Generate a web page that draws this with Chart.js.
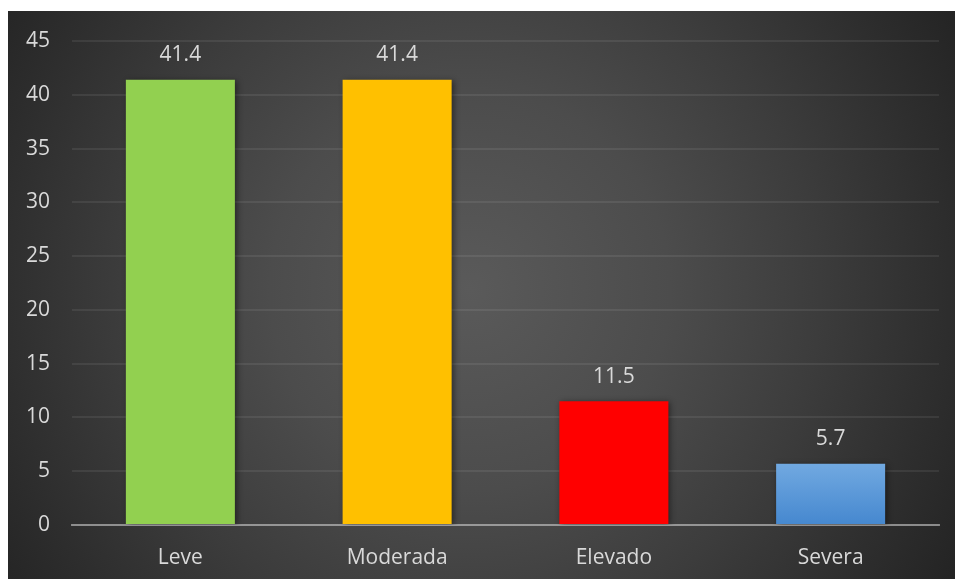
<!DOCTYPE html>
<html>
<head>
<meta charset="utf-8">
<script src="https://cdn.jsdelivr.net/npm/chart.js@4.4.1/dist/chart.umd.min.js"></script>
<style>
  html, body { margin: 0; padding: 0; background: #ffffff; }
  #frame {
    position: absolute; left: 8px; top: 11px; width: 947px; height: 568px;
    background: radial-gradient(circle at 462px 279px,
      #5a5a5a 0px, #4c4c4c 200px, #3c3c3c 350px, #2e2e2e 470px, #242424 560px);
  }
  canvas { display: block; }
</style>
</head>
<body>
<div id="frame"><canvas id="c" width="947" height="568"></canvas></div>
<script>
const categories = ['Leve', 'Moderada', 'Elevado', 'Severa'];
const values = [41.4, 41.4, 11.5, 5.7];
const yTicks = [0, 5, 10, 15, 20, 25, 30, 35, 40, 45];
const barColors = ['#92d050', '#ffc000', '#ff0000', '#5b9bd5'];

const FONT = '"Open Sans", "DejaVu Sans", sans-serif';
const TEXT = '#d9d9d9';

// Soft drop shadow under the bars, and a vertical gradient on the last bar
const barStyle = {
  id: 'barStyle',
  beforeDatasetsDraw(chart) {
    const c = chart.ctx;
    const meta = chart.getDatasetMeta(0);
    const last = meta.data[meta.data.length - 1];
    if (last) {
      const g = c.createLinearGradient(0, last.y, 0, last.base);
      g.addColorStop(0, '#71a9e1');
      g.addColorStop(1, '#4688cf');
      last.options.backgroundColor = g;
    }
    c.save();
    c.shadowColor = 'rgba(0,0,0,0.45)';
    c.shadowBlur = 6;
    c.shadowOffsetX = 2;
    c.shadowOffsetY = 1;
  },
  afterDatasetsDraw(chart) {
    chart.ctx.restore();
  }
};

const valueLabels = {
  id: 'valueLabels',
  afterDatasetsDraw(chart) {
    const c = chart.ctx;
    const meta = chart.getDatasetMeta(0);
    c.save();
    c.font = '21px ' + FONT;
    c.fillStyle = TEXT;
    c.textAlign = 'center';
    c.textBaseline = 'alphabetic';
    meta.data.forEach((bar, i) => {
      c.fillText(String(values[i]), bar.x, bar.y - 18.5);
    });
    c.restore();
  }
};

new Chart(document.getElementById('c'), {
  type: 'bar',
  data: {
    labels: categories,
    datasets: [{
      data: values,
      backgroundColor: barColors,
      borderWidth: 0,
      categoryPercentage: 1,
      barPercentage: 0.503
    }]
  },
  options: {
    responsive: false,
    animation: false,
    devicePixelRatio: 1,
    layout: { padding: { left: 0, right: 16, top: 30, bottom: 10 } },
    plugins: {
      legend: { display: false },
      tooltip: { enabled: false }
    },
    scales: {
      x: {
        z: 1,
        afterFit(scale) { scale.height = 44; },
        grid: { display: false, drawTicks: false },
        border: { display: true, color: 'rgba(210,210,210,0.55)', width: 2 },
        ticks: { color: TEXT, font: { family: FONT, size: 21 }, padding: 20 }
      },
      y: {
        min: 0,
        max: 45,
        afterBuildTicks(scale) { scale.ticks = yTicks.map(v => ({ value: v })); },
        afterFit(scale) {
          scale.width = 64;
          scale.paddingTop = 0;
          scale.paddingBottom = 0;
        },
        grid: { color: 'rgba(255,255,255,0.075)', lineWidth: 2, drawTicks: false },
        border: { display: false },
        ticks: { color: TEXT, font: { family: FONT, size: 21 }, padding: 22 }
      }
    }
  },
  plugins: [barStyle, valueLabels]
});
</script>
</body>
</html>
